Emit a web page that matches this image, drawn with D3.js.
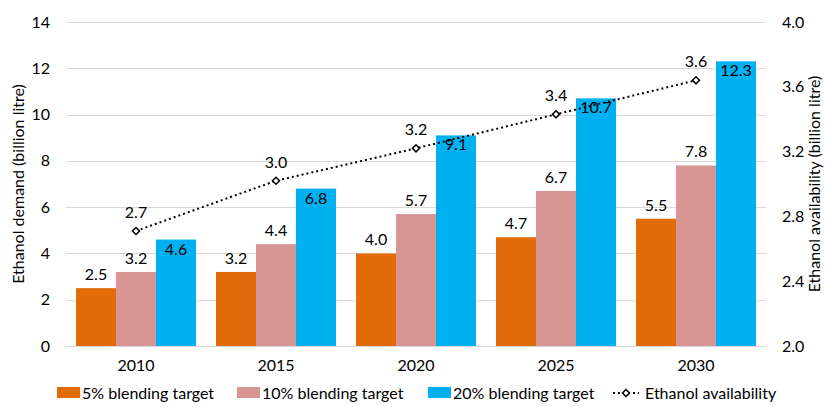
<html>
<script src="https://d3js.org/d3.v7.min.js"></script>
<style>
    body { margin: 0; background: #fff; }
    text { font-family: Lato, "Open Sans", sans-serif; fill: #000; }
    .grid line { stroke: #d9d9d9; stroke-width: 1; shape-rendering: crispEdges; }
    .grid path { stroke-width: 0; }
</style>
<body>
<svg id="chart" width="826" height="407"></svg>
<script>
// data
var years = ["2010", "2015", "2020", "2025", "2030"];
var seriesNames = ["5% blending target", "10% blending target", "20% blending target"];
var blend5 = [2.5, 3.2, 4.0, 4.7, 5.5];
var blend10 = [3.2, 4.4, 5.7, 6.7, 7.8];
var blend20 = [4.6, 6.8, 9.1, 10.7, 12.3];
var availability = [2.71, 3.02, 3.22, 3.43, 3.64];
var lineName = "Ethanol availability";
var leftTicks = [0, 2, 4, 6, 8, 10, 12, 14];
var rightTicks = [2.0, 2.4, 2.8, 3.2, 3.6, 4.0];
var colors = ["#e36c0a", "#d99594", "#00b0f0"];

var fs = "16px";
var margin = {top: 22, right: 60, bottom: 61, left: 66},
    width = 826 - margin.left - margin.right,
    height = 407 - margin.top - margin.bottom;

var svg = d3.select("#chart")
    .append("g")
    .attr("transform", "translate(" + margin.left + "," + margin.top + ")");

var x0 = d3.scaleBand().domain(years).range([0, width]).paddingInner(1 / 7).paddingOuter(1 / 14);
var x1 = d3.scaleBand().domain(d3.range(3)).range([0, x0.bandwidth()]);
var y = d3.scaleLinear().domain([0, 14]).range([height, 0]);
var y2 = d3.scaleLinear().domain([2, 4]).range([height, 0]);

// gridlines
svg.append("g")
    .attr("class", "grid")
    .call(d3.axisLeft(y).tickValues(leftTicks).tickSize(-width).tickFormat(""));

// left axis labels
svg.append("g")
    .call(d3.axisLeft(y).tickValues(leftTicks).tickSize(0).tickPadding(16))
    .call(g => g.select(".domain").remove())
    .selectAll("text").style("font-size", fs);

// right axis labels
svg.append("g")
    .attr("transform", "translate(" + width + ",0)")
    .call(d3.axisRight(y2).tickValues(rightTicks).tickSize(0).tickPadding(16).tickFormat(d3.format(".1f")))
    .call(g => g.select(".domain").remove())
    .selectAll("text").style("font-size", fs);

// x axis labels
svg.append("g")
    .attr("transform", "translate(0," + height + ")")
    .call(d3.axisBottom(x0).tickSize(0).tickPadding(14))
    .call(g => g.select(".domain").remove())
    .selectAll("text").style("font-size", fs);

var series = [blend5, blend10, blend20];
var groups = svg.selectAll(".grp")
    .data(years)
    .enter().append("g")
    .attr("transform", d => "translate(" + x0(d) + ",0)");

groups.selectAll("rect")
    .data((d, i) => series.map((s, k) => ({k: k, v: s[i]})))
    .enter().append("rect")
    .attr("x", d => x1(d.k))
    .attr("width", x1.bandwidth())
    .attr("y", d => y(d.v))
    .attr("height", d => y(0) - y(d.v))
    .attr("fill", d => colors[d.k]);

groups.selectAll(".lbl")
    .data((d, i) => series.map((s, k) => ({k: k, v: s[i]})))
    .enter().append("text")
    .attr("x", d => x1(d.k) + x1.bandwidth() / 2)
    .attr("y", d => d.k === 2 ? y(d.v) + 15 : y(d.v) - 8)
    .attr("text-anchor", "middle")
    .style("font-size", fs)
    .text(d => d3.format(".1f")(d.v));

// availability line
var cx = d => x0(d) + x0.bandwidth() / 2;
var line = d3.line()
    .x((d, i) => cx(years[i]))
    .y(d => y2(d));

svg.append("path")
    .datum(availability)
    .attr("fill", "none")
    .attr("stroke", "#000")
    .attr("stroke-width", 2)
    .attr("stroke-dasharray", "2,3")
    .attr("d", line);

svg.selectAll(".mk")
    .data(availability)
    .enter().append("path")
    .attr("transform", (d, i) => "translate(" + cx(years[i]) + "," + y2(d) + ") rotate(45)")
    .attr("d", "M-2.5,-2.5H2.5V2.5H-2.5Z")
    .attr("fill", "#fff")
    .attr("stroke", "#000")
    .attr("stroke-width", 1.5);

svg.selectAll(".ml")
    .data(availability)
    .enter().append("text")
    .attr("x", (d, i) => cx(years[i]))
    .attr("y", d => y2(d) - 13)
    .attr("text-anchor", "middle")
    .style("font-size", fs)
    .text(d => d3.format(".1f")(d));

// axis titles
svg.append("text")
    .attr("transform", "rotate(-90)")
    .attr("x", -height / 2)
    .attr("y", -margin.left + 24)
    .attr("text-anchor", "middle")
    .style("font-size", fs)
    .text("Ethanol demand (billion litre)");

svg.append("text")
    .attr("transform", "rotate(-90)")
    .attr("x", -height / 2)
    .attr("y", width + margin.right - 6)
    .attr("text-anchor", "middle")
    .style("font-size", fs)
    .text("Ethanol availability (billion litre)");

// legend
var legend = d3.select("#chart").append("g")
    .attr("transform", "translate(0,399)");
var legX = [57, 237, 428];
seriesNames.forEach(function(name, k) {
    legend.append("rect")
        .attr("x", legX[k]).attr("y", -12)
        .attr("width", 23).attr("height", 11)
        .attr("fill", colors[k]);
    legend.append("text")
        .attr("x", legX[k] + 25).attr("y", 0)
        .style("font-size", fs)
        .text(name);
});
legend.append("line")
    .attr("x1", 613).attr("x2", 639)
    .attr("y1", -6).attr("y2", -6)
    .attr("stroke", "#000").attr("stroke-width", 2)
    .attr("stroke-dasharray", "2,3");
legend.append("path")
    .attr("transform", "translate(626,-6) rotate(45)")
    .attr("d", "M-2.5,-2.5H2.5V2.5H-2.5Z")
    .attr("fill", "#fff").attr("stroke", "#000").attr("stroke-width", 1.5);
legend.append("text")
    .attr("x", 645).attr("y", 0)
    .style("font-size", fs)
    .text(lineName);
</script>
</body>
</html>
